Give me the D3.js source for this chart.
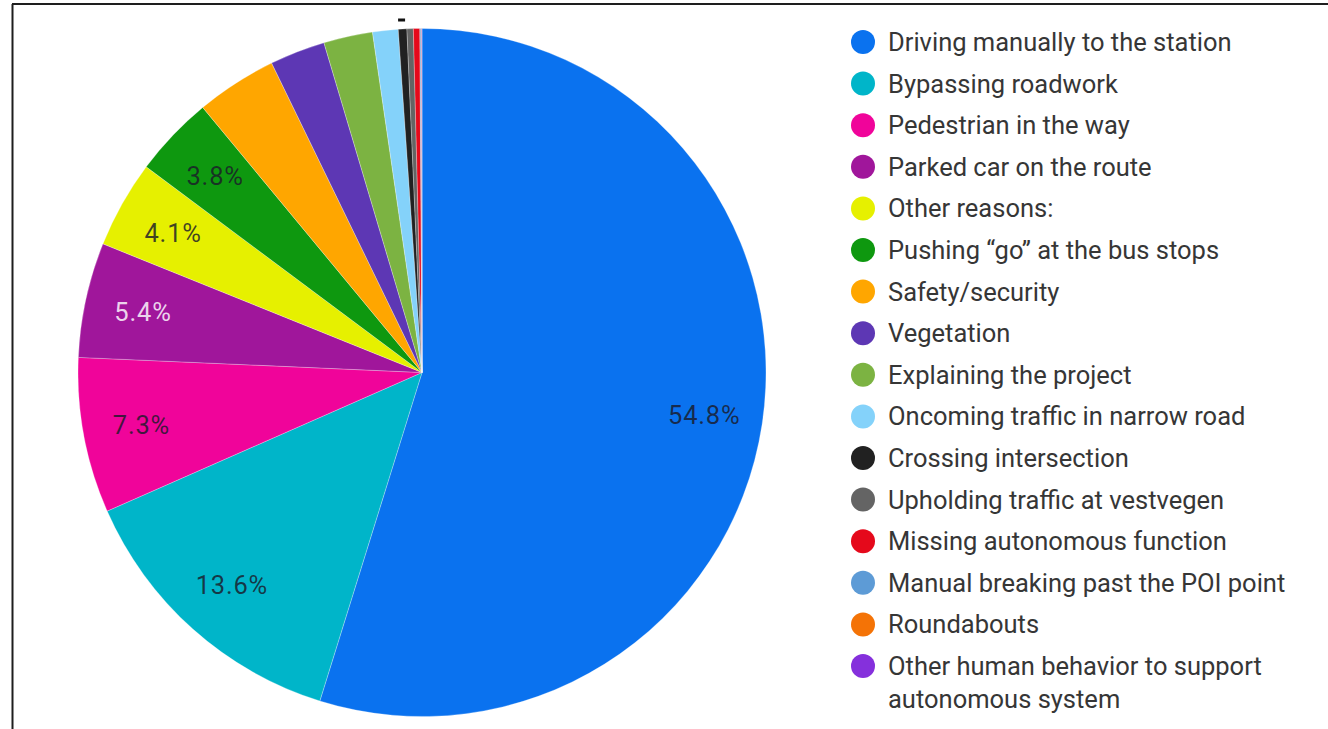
<!DOCTYPE html>
<html>
<head>
<meta charset="utf-8">
<script src="https://cdn.jsdelivr.net/npm/d3@7"></script>
<style>
  html, body { margin: 0; padding: 0; background: #fff; }
  svg { display: block; }
  text { font-family: Roboto, "Noto Sans", sans-serif; }
</style>
</head>
<body>
<svg id="chart" width="1328" height="729"></svg>
<script>
// Reasons for manual intervention (share of all cases, %)
const categories = [
  "Driving manually to the station",
  "Bypassing roadwork",
  "Pedestrian in the way",
  "Parked car on the route",
  "Other reasons:",
  "Pushing \u201cgo\u201d at the bus stops",
  "Safety/security",
  "Vegetation",
  "Explaining the project",
  "Oncoming traffic in narrow road",
  "Crossing intersection",
  "Upholding traffic at vestvegen",
  "Missing autonomous function",
  "Manual breaking past the POI point",
  "Roundabouts",
  "Other human behavior to support autonomous system"
];
const values = [54.8, 13.6, 7.3, 5.4, 4.1, 3.8, 3.8, 2.6, 2.3, 1.2, 0.4, 0.3, 0.3, 0.05, 0.03, 0.02];
const colors = [
  "#0a72ef", "#00b5c9", "#f0049a", "#a0169b", "#e6f000", "#0e980f",
  "#ffa600", "#5d37b4", "#7cb342", "#84d2fa", "#212121", "#646464",
  "#e5091b", "#5d9bd6", "#f47306", "#8530dc"
];
// slices that carry an in-slice percentage label
const labelled = [
  "Driving manually to the station", "Bypassing roadwork", "Pedestrian in the way",
  "Parked car on the route", "Other reasons:", "Pushing \u201cgo\u201d at the bus stops"
];
const lightLabel = ["Parked car on the route"];
// legend rows (the last entry wraps onto two lines)
const legendLines = categories.map(c =>
  c === "Other human behavior to support autonomous system"
    ? ["Other human behavior to support", "autonomous system"] : [c]);

const svg = d3.select("#chart");

// frame lines
svg.append("line").attr("x1", 12.5).attr("y1", 4).attr("x2", 12.5).attr("y2", 729)
  .attr("stroke", "#1e1e1e").attr("stroke-width", 2);
svg.append("line").attr("x1", 12).attr("y1", 4).attr("x2", 1328).attr("y2", 4)
  .attr("stroke", "#1e1e1e").attr("stroke-width", 2);

const cx = 422, cy = 372.5, R = 344;
const data = categories.map((c, i) => ({ name: c, value: values[i], color: colors[i] }));
const total = d3.sum(values);

const pie = d3.pie().sort(null).value(d => d.value).startAngle(0).endAngle(2 * Math.PI);
const arcs = pie(data);
const arc = d3.arc().innerRadius(0).outerRadius(R);
const labelArc = d3.arc().innerRadius(R * 0.83).outerRadius(R * 0.83);

const g = svg.append("g").attr("transform", `translate(${cx},${cy})`);
g.selectAll("path.slice").data(arcs).join("path")
  .attr("class", "slice")
  .attr("d", arc)
  .attr("fill", d => d.data.color)
  .attr("stroke", "rgba(255,255,255,0.45)")
  .attr("stroke-width", 0.6);

const fmt = d3.format(".1%");
g.selectAll("text.pct").data(arcs.filter(d => labelled.includes(d.data.name))).join("text")
  .attr("class", "pct")
  .attr("transform", d => `translate(${labelArc.centroid(d)})`)
  .attr("text-anchor", "middle")
  .attr("dominant-baseline", "central")
  .attr("font-size", 25.5)
  .attr("letter-spacing", 0.8)
  .attr("fill", d => lightLabel.includes(d.data.name) ? "#ecd3ec" : "#1b1b2a")
  .attr("fill-opacity", d => lightLabel.includes(d.data.name) ? 1 : 0.82)
  .text(d => fmt(d.data.value / total));

// small leader tick above the thinnest slices
const tiny = arcs[10];
const tickAng = (tiny.startAngle + tiny.endAngle) / 2;
svg.append("line")
  .attr("x1", cx + Math.sin(tickAng) * (R + 8.5) - 4).attr("x2", cx + Math.sin(tickAng) * (R + 8.5) + 3)
  .attr("y1", cy - (R + 8.5)).attr("y2", cy - (R + 8.5))
  .attr("stroke", "#111").attr("stroke-width", 3);

// legend
const legend = svg.append("g").attr("transform", "translate(863,0)");
const rowY = d3.scaleLinear().domain([0, categories.length - 1]).range([42, 666]);
const items = legend.selectAll("g.item").data(data).join("g")
  .attr("class", "item")
  .attr("transform", (d, i) => `translate(0,${rowY(i)})`);
items.append("circle").attr("r", 12).attr("fill", d => d.color);
items.append("text")
  .attr("x", 25)
  .attr("font-size", 25.5)
  .attr("fill", "#363636")
  .selectAll("tspan").data((d, i) => legendLines[i]).join("tspan")
  .attr("x", 25)
  .attr("y", (d, j) => j * 33)
  .attr("dy", "0.35em")
  .text(d => d);
</script>
</body>
</html>
